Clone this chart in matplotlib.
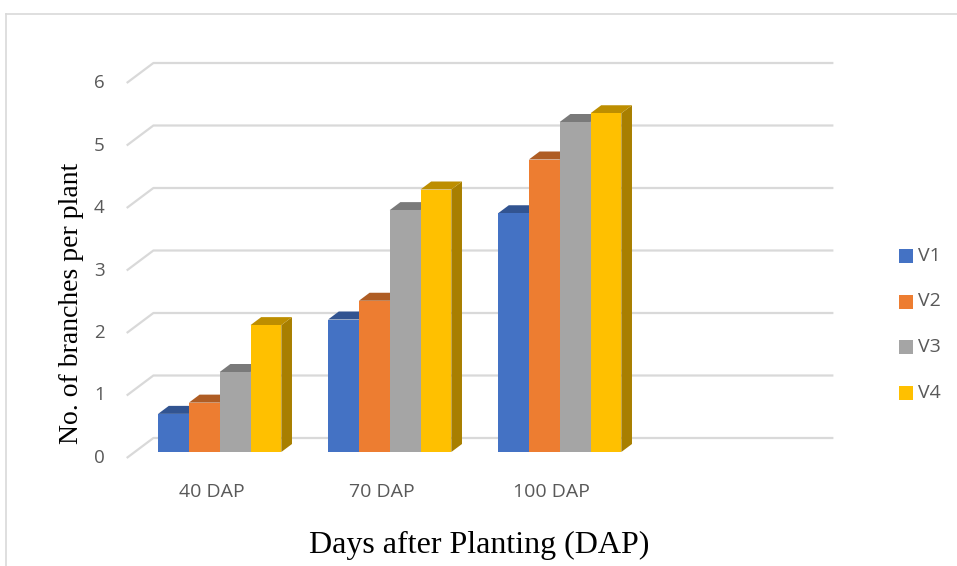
import matplotlib
matplotlib.use("Agg")
import matplotlib.pyplot as plt
from matplotlib.patches import Polygon, Rectangle
from matplotlib.lines import Line2D
import numpy as np

categories = ["40 DAP", "70 DAP", "100 DAP"]
series_names = ["V1", "V2", "V3", "V4"]
V1 = [0.61, 2.12, 3.82]
V2 = [0.79, 2.42, 4.68]
V3 = [1.28, 3.87, 5.28]
V4 = [2.03, 4.20, 5.42]
series_values = [V1, V2, V3, V4]
colors = ["#4472C4", "#ED7D31", "#A5A5A5", "#FFC000"]
y_ticks = [0, 1, 2, 3, 4, 5, 6]

W, H = 957, 566
fig = plt.figure(figsize=(W / 100, H / 100), dpi=100)

# pixel geometry of the pseudo-3D frame
px_left, px_right_back = 126.7, 833.4
px_zero = 458.0
px_per_unit = 62.5
px_per_cat = 170.0
ymin, ymax = -0.2, 6.5
pb = px_zero + px_per_unit * (-ymin)
pt = px_zero - px_per_unit * ymax
ax = fig.add_axes([px_left / W, 1 - pb / H, (px_right_back - px_left) / W, (pb - pt) / H])
n_slots = 4
ax.set_xlim(-0.5, -0.5 + (px_right_back - px_left) / px_per_cat)
ax.set_ylim(ymin, ymax)
ax.axis("off")

DX = 26.7 / px_per_cat
DY = 20.0 / px_per_unit
grid_c = "#D9D9D9"
tick_c = "#595959"
for v in y_ticks:
    ax.plot([-0.5, -0.5 + DX, n_slots - 0.5 + DX], [v, v + DY, v + DY],
            color=grid_c, lw=1.6, solid_capstyle="butt", zorder=1, clip_on=False)
    ax.text(-0.5 - 22 / px_per_cat, v, str(v), ha="right", va="center",
            fontsize=13.5, color=tick_c, family="Open Sans")

for i, c in enumerate(categories):
    ax.text(i, -34 / px_per_unit, c, ha="center", va="center",
            fontsize=14, color=tick_c, family="Open Sans")

def shade(col, f):
    r, g, b = matplotlib.colors.to_rgb(col)
    return (r * f, g * f, b * f)

bw = 30.8 / px_per_cat
f0, f1 = 0.3, 0.7
ox, oy = f0 * DX, f0 * DY
ddx, ddy = (f1 - f0) * DX, (f1 - f0) * DY
x = np.arange(len(categories))
z = 3
for ci in range(len(categories)):
    for si, vals in enumerate(series_values):
        v = vals[ci]
        xl = x[ci] + ox + (si - 2) * bw
        xr = xl + bw
        yb = oy
        yt = oy + v
        col = colors[si]
        ax.add_patch(Polygon([[xr, yb], [xr + ddx, yb + ddy], [xr + ddx, yt + ddy], [xr, yt]],
                             closed=True, facecolor=shade(col, 0.66), edgecolor="none", zorder=z))
        ax.add_patch(Polygon([[xl, yt], [xl + ddx, yt + ddy], [xr + ddx, yt + ddy], [xr, yt]],
                             closed=True, facecolor=shade(col, 0.74), edgecolor="none", zorder=z))
        ax.bar(xl, v, width=bw, bottom=yb, align="edge", color=col, edgecolor="none", zorder=z)
        z += 1

# legend
for si, name in enumerate(series_names):
    ly = 256 + si * 45.5
    fig.patches.append(Rectangle((899 / W, 1 - (ly + 7) / H), 14 / W, 14 / H,
                                 transform=fig.transFigure, facecolor=colors[si], edgecolor="none"))
    fig.text(918 / W, 1 - ly / H, name, ha="left", va="center", fontsize=14,
             color=tick_c, family="Open Sans")

fig.text(479 / W, 1 - 545 / H, "Days after Planting (DAP)", ha="center", va="center",
         fontsize=23, family="Liberation Serif", color="black")
fig.text(72 / W, 1 - 303 / H, "No. of branches per plant", ha="center", va="center",
         rotation=90, fontsize=20, family="Liberation Serif", color="black")

# outer border (top and left visible)
fig.add_artist(Line2D([5.5 / W, 5.5 / W], [0, 1 - 13.5 / H], transform=fig.transFigure,
                      color="#D9D9D9", lw=1.2))
fig.add_artist(Line2D([5.5 / W, 1], [1 - 13.5 / H, 1 - 13.5 / H], transform=fig.transFigure,
                      color="#D9D9D9", lw=1.2))

fig.savefig("out.png", dpi=100)
